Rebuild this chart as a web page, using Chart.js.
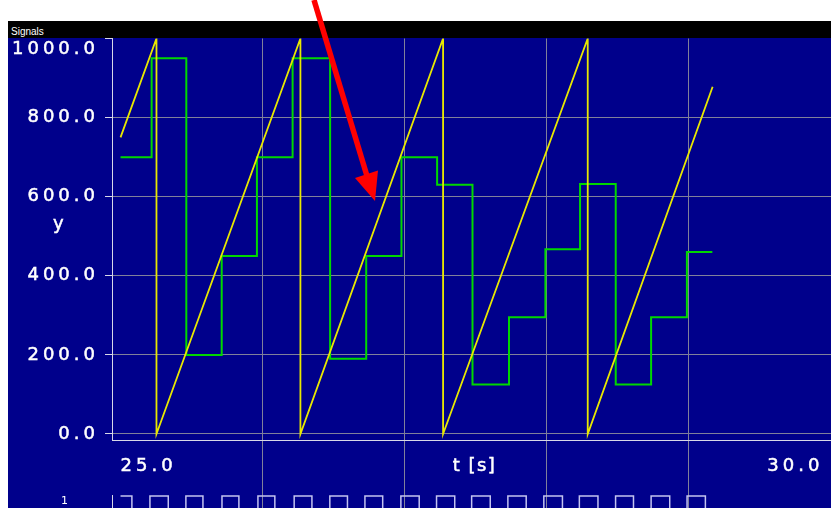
<!DOCTYPE html>
<html>
<head>
<meta charset="utf-8">
<title>Signals</title>
<script src="https://cdn.jsdelivr.net/npm/chart.js@4.4.1/dist/chart.umd.min.js"></script>
<style>
    html, body {
        margin: 0;
        padding: 0;
        background: #ffffff;
        width: 831px;
        height: 508px;
        overflow: hidden;
    }
    #plot-bg {
        position: absolute;
        left: 8px;
        top: 38px;
        width: 823px;
        height: 470px;
        background: #00008b;
    }
    #band {
        position: absolute;
        left: 8px;
        top: 21px;
        width: 823px;
        height: 17px;
        background: #000000;
        color: #ffffff;
        font: 10px 'Liberation Sans', sans-serif;
        line-height: 12px;
        box-sizing: border-box;
        padding: 5px 0 0 3px;
    }
    canvas {
        position: absolute;
        left: 8px;
    }
    #analog { top: 0; }
    #digital { top: 480px; }
    #arrow {
        position: absolute;
        left: 0;
        top: 0;
        pointer-events: none;
    }
</style>
</head>
<body>
<div id="plot-bg"></div>
<div id="band">Signals</div>
<canvas id="analog" width="823" height="495"></canvas>
<!-- taller than the window on purpose: the low level of the track lies below the picture -->
<canvas id="digital" width="823" height="60"></canvas>
<svg id="arrow" width="831" height="508">
    <line x1="314" y1="0" x2="367" y2="176" stroke="#ff0000" stroke-width="5.5"/>
    <polygon points="375,201 355,178 378,170.5" fill="#ff0000"/>
</svg>

<script>
// ========================================
// Data
// ========================================

// axes
const yTicks = [0, 200, 400, 600, 800, 1000];
const xTicks = [25, 26, 27, 28, 29, 30];
const xLabels = ['25.0', '', '', '', '', '30.0'];

// sawtooth counter (yellow)
const rampTimes  = [25.0, 25.253, 25.253, 26.266, 26.266, 27.270, 27.270, 28.288, 28.288, 29.167];
const rampValues = [750, 1000, 0, 1000, 0, 1000, 0, 1000, 0, 878];

// sampled value (green, held between samples)
const stepTimes  = [25.0, 25.219, 25.463, 25.712, 25.960, 26.211, 26.475, 26.729, 26.977,
                    27.228, 27.477, 27.734, 27.990, 28.234, 28.485, 28.734, 28.986, 29.165];
const stepValues = [700, 950, 200, 450, 700, 950, 190, 450, 700,
                    630, 125, 295, 467, 632, 125, 295, 460, 460];

// digital clock track (edges)
const pulseTimes  = [25.0, 25.08, 25.207, 25.336, 25.46, 25.58, 25.714, 25.833, 25.967, 26.086,
                     26.222, 26.347, 26.473, 26.597, 26.72, 26.845, 26.973, 27.102, 27.224, 27.352,
                     27.471, 27.602, 27.726, 27.855, 27.979, 28.11, 28.229, 28.36, 28.484, 28.61,
                     28.734, 28.865, 28.987, 29.116];
const pulseLevels = [1, 0, 1, 0, 1, 0, 1, 0, 1, 0,
                     1, 0, 1, 0, 1, 0, 1, 0, 1, 0,
                     1, 0, 1, 0, 1, 0, 1, 0, 1, 0,
                     1, 0, 1, 0];

// ========================================
// Colours
// ========================================
const colors = {
    text: '#ffffff',
    axis: '#d8d8e8',
    grid: '#80809a',
    ramp: '#e8e800',
    step: '#00d800',
    pulse: '#c4c4f0'
};

Chart.defaults.font.family = "'DejaVu Sans', sans-serif";
Chart.defaults.color = colors.text;

const xMin = 24.94;   // leaves the small gap between the y axis line and t = 25
const xMax = 30;

function toPoints(xs, ys) {
    return xs.map((x, i) => ({ x: x, y: ys[i] }));
}

// gridlines only on the inner seconds
function innerGrid(context) {
    return xLabels[context.index] === '' ? colors.grid : 'rgba(0,0,0,0)';
}

// wide lettering like the original recorder font
const wideText = {
    id: 'wideText',
    beforeDraw(chart) {
        chart.ctx.letterSpacing = '4px';
    }
};

// axis captions: "y" stands upright left of the axis, "t [s]" sits on the tick label row
const captions = {
    id: 'captions',
    afterDraw(chart) {
        const ctx = chart.ctx;
        const xScale = chart.scales.x;
        ctx.save();
        ctx.fillStyle = colors.text;
        ctx.strokeStyle = colors.text;
        ctx.lineWidth = 0.5;
        ctx.font = "18px 'DejaVu Sans', sans-serif";
        ctx.textAlign = 'center';
        ctx.textBaseline = 'alphabetic';
        ctx.letterSpacing = '1.5px';

        ctx.fillText('y', 51, 229);
        ctx.strokeText('y', 51, 229);

        const midX = (xScale.left + xScale.right) / 2 + 3;
        ctx.fillText('t [s]', midX, 471);
        ctx.strokeText('t [s]', midX, 471);
        ctx.restore();
    }
};

// ========================================
// Analog chart
// ========================================
const analogChart = new Chart(document.getElementById('analog'), {
    type: 'line',
    data: {
        datasets: [{
            label: 'counter',
            data: toPoints(rampTimes, rampValues),
            borderColor: colors.ramp,
            borderWidth: 1.8,
            pointRadius: 0,
            tension: 0
        }, {
            label: 'sample',
            data: toPoints(stepTimes, stepValues),
            borderColor: colors.step,
            borderWidth: 2,
            pointRadius: 0,
            stepped: 'before'
        }]
    },
    options: {
        responsive: false,
        animation: false,
        layout: {
            padding: { top: 38.5, left: 0, right: 0, bottom: 0 }
        },
        plugins: {
            legend: { display: false },
            tooltip: { enabled: false }
        },
        scales: {
            x: {
                type: 'linear',
                min: xMin,
                max: xMax,
                afterBuildTicks: scale => {
                    scale.ticks = xTicks.map(v => ({ value: v }));
                },
                afterFit: scale => {
                    scale.height = 55;
                },
                ticks: {
                    color: colors.text,
                    font: { size: 18 },
                    textStrokeColor: colors.text,
                    textStrokeWidth: 0.5,
                    align: 'inner',
                    padding: -39,
                    maxRotation: 0,
                    autoSkip: false,
                    // last label keeps a little room from the right edge
                    callback: (value, index) => index === xLabels.length - 1 ? xLabels[index] + '\u2009' : xLabels[index]
                },
                grid: {
                    color: innerGrid,
                    tickColor: innerGrid,
                    tickLength: 55
                },
                border: { color: colors.axis, width: 1 }
            },
            y: {
                min: -15.2,
                max: 1000,
                afterBuildTicks: scale => {
                    scale.ticks = yTicks.map(v => ({ value: v }));
                },
                afterFit: scale => {
                    scale.width = 104;
                },
                ticks: {
                    color: colors.text,
                    font: { size: 18 },
                    textStrokeColor: colors.text,
                    textStrokeWidth: 0.5,
                    padding: 6,
                    // top label sits below its tick, as in the original
                    callback: value => value === 1000 ? ['', value.toFixed(1)] : value.toFixed(1)
                },
                grid: {
                    color: context => context.tick && context.tick.value === 1000 ? 'rgba(0,0,0,0)' : colors.grid,
                    tickColor: colors.axis,
                    tickLength: 7
                },
                border: { color: colors.axis, width: 1 }
            }
        }
    },
    plugins: [wideText, captions]
});

// ========================================
// Digital track
// ========================================
const digitalChart = new Chart(document.getElementById('digital'), {
    type: 'line',
    data: {
        datasets: [{
            label: 'clock',
            data: toPoints(pulseTimes, pulseLevels),
            borderColor: colors.pulse,
            borderWidth: 1.5,
            pointRadius: 0,
            stepped: 'before'
        }]
    },
    options: {
        responsive: false,
        animation: false,
        layout: {
            padding: { top: 15, left: 0, right: 0, bottom: 0 }
        },
        plugins: {
            legend: { display: false },
            tooltip: { enabled: false }
        },
        scales: {
            x: {
                type: 'linear',
                min: xMin,
                max: xMax,
                afterBuildTicks: scale => {
                    scale.ticks = xTicks.map(v => ({ value: v }));
                },
                afterFit: scale => {
                    scale.height = 0;
                },
                ticks: { display: false },
                grid: { color: innerGrid, drawTicks: false },
                border: { display: false }
            },
            y: {
                min: -0.25,
                max: 1.035,
                afterBuildTicks: scale => {
                    scale.ticks = [{ value: 1 }];
                },
                afterFit: scale => {
                    scale.width = 104;
                },
                ticks: {
                    color: colors.text,
                    font: { size: 11 },
                    padding: 0,
                    labelOffset: 5
                },
                grid: {
                    drawOnChartArea: false,
                    tickColor: 'rgba(0,0,0,0)',
                    tickLength: 44
                },
                border: { color: colors.axis, width: 1 }
            }
        }
    }
});
</script>
</body>
</html>
